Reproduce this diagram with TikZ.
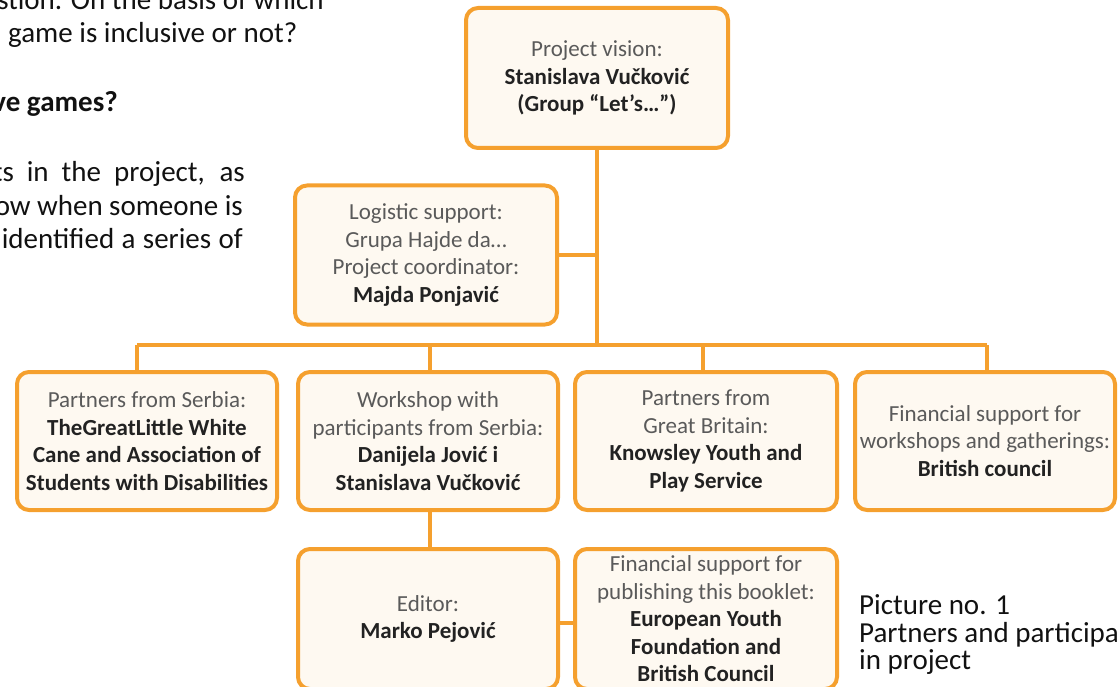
\documentclass[tikz,border=0pt]{standalone}
\usepackage{fontspec}
\setmainfont{Carlito}
\definecolor{boxline}{HTML}{F5A02E}
\definecolor{boxfill}{HTML}{FEF9F1}
\definecolor{lighttext}{HTML}{5A5A5A}
\definecolor{darktext}{HTML}{222222}
\definecolor{pagetext}{HTML}{111111}
\newcommand\bname[1]{{\bfseries\color{darktext}#1}}
\begin{document}
\begin{tikzpicture}[x=1pt,y=-1pt,
  orgbox/.style={draw=boxline, line width=4pt, fill=boxfill, rounded corners=12pt,
    minimum width=260pt, minimum height=138pt, align=center, inner sep=0pt,
    text=lighttext, font=\fontsize{23}{27.5}\selectfont},
  link/.style={draw=boxline, line width=4pt},
  bodytext/.style={inner sep=0pt, text=pagetext, font=\fontsize{29}{33}\selectfont}
]
\useasboundingbox (0,0) rectangle (1119,687);
\clip (0,0) rectangle (1119,687);

% surrounding page text
\node[bodytext, anchor=base east] (p1) at (324,10) {stion. On the basis of which};
\node[bodytext, anchor=base west] (p2) at (8,43) {game is inclusive or not?};
\node[bodytext, anchor=base east, font=\fontsize{29}{33}\selectfont\bfseries] (p3) at (118,112) {ve games?};
\node[bodytext, anchor=base east] (p4) at (245,182) {\makebox[252pt][s]{ts in the project, as}};
\node[bodytext, anchor=base east] (p5) at (243,215) {\makebox[248pt][s]{ow when someone is}};
\node[bodytext, anchor=base east] (p6) at (243,248) {\makebox[241pt][s]{identified a series of}};

% organisation chart
\node[orgbox, minimum width=262pt, minimum height=140pt] (vision) at (597,78)
  {Project vision:\\ \bname{Stanislava Vučković}\\ \bname{(Group “Let’s…”)}};
\node[orgbox, minimum width=262pt, minimum height=139pt] (logistic) at (426,255)
  {Logistic support:\\ Grupa Hajde da…\\ Project coordinator:\\ \bname{Majda Ponjavić}};

\node[orgbox] (serbia) at (147,441)
  {Partners from Serbia:\\ \bname{TheGreatLittle White}\\ \bname{Cane and Association of}\\ \bname{Students with Disabilities}};
\node[orgbox] (workshop) at (428,441)
  {Workshop with\\ participants from Serbia:\\ \bname{Danijela Jović i}\\ \bname{Stanislava Vučković}};
\node[orgbox, minimum width=262pt] (britain) at (706,441)
  {Partners from\\ Great Britain:\\ \bname{Knowsley Youth and}\\ \bname{Play Service}};
\node[orgbox] (finance) at (985,441)
  {Financial support for\\ workshops and gatherings:\\ \bname{British council}};

\node[orgbox, minimum height=140pt] (editor) at (428,619)
  {Editor:\\ \bname{Marko Pejović}};
\node[orgbox, minimum width=262pt, minimum height=140pt] (booklet) at (706,619)
  {Financial support for\\ publishing this booklet:\\ \bname{European Youth}\\ \bname{Foundation and}\\ \bname{British Council}};

% bus and drop points
\coordinate (busL) at (137,345);
\coordinate (busR) at (987,345);
\coordinate (busV) at (597,345);
\coordinate (d2) at (430,345);
\coordinate (d3) at (703,345);
\coordinate (pubY) at (566,623);

\draw[link] (vision.south) -- (busV);
\draw[link] (logistic.east) -- (logistic.east -| busV);
\draw[link] (busL) -- (busR);
\draw[link] (busL) -- (busL |- serbia.north);
\draw[link] (d2) -- (d2 |- workshop.north);
\draw[link] (d3) -- (d3 |- britain.north);
\draw[link] (busR) -- (busR |- finance.north);
\draw[link] (workshop.south -| d2) -- (editor.north -| d2);
\draw[link] (pubY -| editor.east) -- (pubY -| booklet.west);

% caption
\node[bodytext, anchor=base west] (cap1) at (859,614) {Picture no. 1};
\node[bodytext, anchor=base west] (cap2) at (859,642) {Partners and participants};
\node[bodytext, anchor=base west] (cap3) at (859,669) {in project};
\end{tikzpicture}
\end{document}
